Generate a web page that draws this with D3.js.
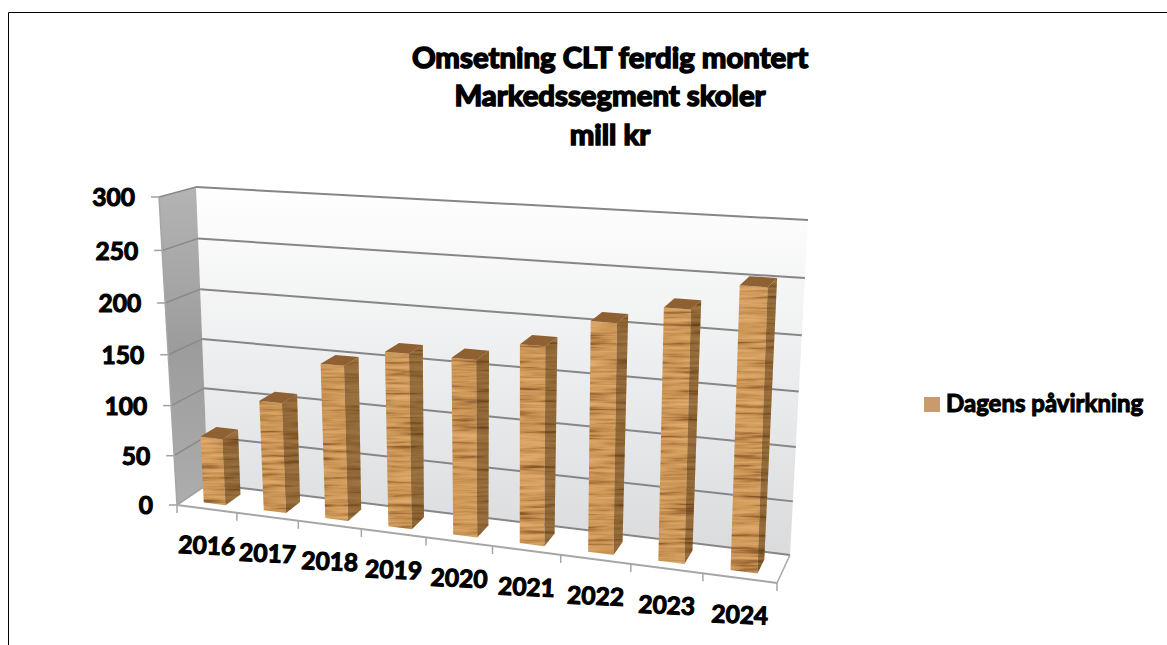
<!DOCTYPE html>
<html>
<head>
<meta charset="utf-8">
<script src="https://cdn.jsdelivr.net/npm/d3@7"></script>
<style>
  html, body { margin: 0; background: #fff; overflow: hidden; }
  text { font-family: Lato, Carlito, sans-serif; font-weight: 700; fill: #000; stroke: #000; stroke-width: 1.1px; }
  text.title { stroke-width: 1.6px; }
</style>
</head>
<body>
<svg id="chart" width="1167" height="645"></svg>
<script>
const years = [2016, 2017, 2018, 2019, 2020, 2021, 2022, 2023, 2024]
const values = [67, 109, 151, 168, 168, 186, 212, 229, 253]
const yTicks = [0, 50, 100, 150, 200, 250, 300]
const titleLines = ["Omsetning CLT ferdig montert", "Markedssegment skoler", "mill kr"]
const seriesName = "Dagens påvirkning"

const svg = d3.select("#chart")
const defs = svg.append("defs")

// corners of the 3d plot box on screen: f = front, b = back, l/r, 0 = floor, 1 = top
const box = {
  fl0: [177, 505], fr0: [777, 583], bl0: [208, 484], br0: [790, 555],
  fl1: [159, 197], fr1: [789, 237], bl1: [196, 187], br1: [808, 220],
}

const warp = (t, w) => t * w / (1 - t + t * w)
const mix = (a, b, t) => [a[0] + (b[0] - a[0]) * t, a[1] + (b[1] - a[1]) * t]

const xBand = d3.scaleBand().domain(years).range([0, 1])
const yScale = d3.scaleLinear().domain([0, 300]).range([0, 1])

// u along the years, v up the value axis, w from front to back
function project(u, v, w) {
  const uu = warp(u, 0.887), vv = warp(v, 0.953), ww = warp(w, 1.1)
  const floor = mix(mix(box.fl0, box.fr0, uu), mix(box.bl0, box.br0, uu), ww)
  const top = mix(mix(box.fl1, box.fr1, uu), mix(box.bl1, box.br1, uu), ww)
  return mix(floor, top, vv)
}

const poly = d3.line().curve(d3.curveLinearClosed)
const seg = d3.line()

// walls
const wallGrad = defs.append("linearGradient").attr("id", "wall").attr("x1", 0).attr("x2", 0).attr("y1", 0).attr("y2", 1)
wallGrad.append("stop").attr("offset", 0).attr("stop-color", "#ffffff")
wallGrad.append("stop").attr("offset", 1).attr("stop-color", "#d9dbdd")
const sideGrad = defs.append("linearGradient").attr("id", "sideWall").attr("x1", 0).attr("x2", 0).attr("y1", 0).attr("y2", 1)
sideGrad.append("stop").attr("offset", 0).attr("stop-color", "#b4b4b4")
sideGrad.append("stop").attr("offset", 0.5).attr("stop-color", "#9c9c9c")
sideGrad.append("stop").attr("offset", 1).attr("stop-color", "#adadad")

svg.append("path").attr("d", "M8.5,645V12.5H1167").attr("fill", "none").attr("stroke", "#000").attr("stroke-width", 1)

svg.append("path").attr("d", poly([box.bl0, box.br0, box.br1, box.bl1])).attr("fill", "url(#wall)")
svg.append("path").attr("d", poly([box.fl0, box.bl0, box.bl1, box.fl1])).attr("fill", "url(#sideWall)")
svg.append("path").attr("d", poly([box.fl0, box.fr0, box.br0, box.bl0])).attr("fill", "#fff")

// gridlines run along the side wall and the back wall
yTicks.forEach(t => {
  const v = yScale(t)
  svg.append("path").attr("d", seg([project(0, v, 0), project(0, v, 1)]))
    .attr("fill", "none").attr("stroke", "#8a8a8a").attr("stroke-width", 1.5)
  svg.append("path").attr("d", seg([project(0, v, 1), project(1, v, 1)]))
    .attr("fill", "none").attr("stroke", "#868686").attr("stroke-width", 2)
  const p = project(0, v, 0)
  svg.append("path").attr("d", seg([[p[0] - 8, p[1]], p])).attr("stroke", "#a0a0a0").attr("stroke-width", 1.5)
  svg.append("text").attr("x", p[0] - 24).attr("y", p[1] + 3).attr("text-anchor", "end")
    .attr("dominant-baseline", "middle").attr("font-size", 24.5).text(t)
})

// axis lines
const axisColor = "#a6a6a6"
svg.append("path").attr("d", seg([box.fl0, box.fr0])).attr("stroke", axisColor).attr("stroke-width", 2)
svg.append("path").attr("d", seg([box.fl0, box.fl1])).attr("stroke", axisColor).attr("stroke-width", 1.5)
svg.append("path").attr("d", seg([box.fr0, box.br0])).attr("stroke", axisColor).attr("stroke-width", 1.5)
svg.append("path").attr("d", seg([box.fl0, box.bl0])).attr("stroke", axisColor).attr("stroke-width", 1.5)
d3.range(years.length + 1).forEach(i => {
  const p = project(i / years.length, 0, 0)
  svg.append("path").attr("d", seg([p, [p[0], p[1] + 8]])).attr("stroke", axisColor).attr("stroke-width", 1.5)
})

// wood texture, one noise seed per bar
function woodFilter(id, seed) {
  const f = defs.append("filter").attr("id", id).attr("filterUnits", "userSpaceOnUse")
    .attr("x", 0).attr("y", 0).attr("width", 1167).attr("height", 645)
    .attr("color-interpolation-filters", "sRGB")
  f.append("feTurbulence").attr("type", "fractalNoise").attr("baseFrequency", "0.018 0.26")
    .attr("numOctaves", 3).attr("seed", seed).attr("result", "noise")
  f.append("feColorMatrix").attr("in", "noise").attr("type", "matrix")
    .attr("values", "1 0 0 0 0  1 0 0 0 0  1 0 0 0 0  0 0 0 0 1").attr("result", "grey")
  const ct = f.append("feComponentTransfer").attr("in", "grey").attr("result", "wood")
  ct.append("feFuncR").attr("type", "table").attr("tableValues", "0.50 0.50 0.62 0.74 0.80 0.84 0.87 0.88 0.88")
  ct.append("feFuncG").attr("type", "table").attr("tableValues", "0.32 0.32 0.42 0.53 0.59 0.63 0.66 0.68 0.68")
  ct.append("feFuncB").attr("type", "table").attr("tableValues", "0.15 0.15 0.22 0.29 0.34 0.38 0.42 0.44 0.44")
  f.append("feGaussianBlur").attr("in", "wood").attr("stdDeviation", "0.7").attr("result", "soft")
  f.append("feComposite").attr("in", "soft").attr("in2", "SourceGraphic").attr("operator", "in")
}

const barU0 = 0.33, barU1 = 0.695, barW0 = 0.22, barW1 = 0.72
const bars = svg.append("g")
years.forEach((yr, i) => {
  const u0 = xBand(yr) + xBand.bandwidth() * barU0
  const u1 = xBand(yr) + xBand.bandwidth() * barU1
  const v = yScale(values[i])
  woodFilter("wood" + i, i * 7 + 3)

  const front = [project(u0, 0, barW0), project(u1, 0, barW0), project(u1, v, barW0), project(u0, v, barW0)]
  const side = [project(u1, 0, barW0), project(u1, 0, barW1), project(u1, v, barW1), project(u1, v, barW0)]
  const top = [project(u0, v, barW0), project(u1, v, barW0), project(u1, v, barW1), project(u0, v, barW1)]

  bars.append("path").attr("d", poly(front)).attr("filter", `url(#wood${i})`)
  bars.append("path").attr("d", poly(side)).attr("filter", `url(#wood${i})`)
  bars.append("path").attr("d", poly(side)).attr("fill", "#3a2208").attr("opacity", 0.4)
  bars.append("path").attr("d", poly(top)).attr("fill", "#8f6032")
})

// category labels
years.forEach(yr => {
  const p = project(xBand(yr) + xBand.bandwidth() / 2, 0, 0)
  svg.append("text").attr("transform", `translate(${p[0]},${p[1] + 39}) rotate(2.5)`)
    .attr("text-anchor", "middle").attr("dominant-baseline", "middle").attr("font-size", 24.5).text(yr)
})

// title
const titleY = d3.scalePoint().domain(titleLines).range([60, 137])
titleLines.forEach(line => {
  svg.append("text").attr("class", "title").attr("x", 610).attr("y", titleY(line)).attr("text-anchor", "middle")
    .attr("dominant-baseline", "middle").attr("font-size", 29.4).text(line)
})

// legend
svg.append("rect").attr("x", 924).attr("y", 397).attr("width", 16).attr("height", 15).attr("fill", "#c99a6c")
svg.append("text").attr("x", 946).attr("y", 406).attr("dominant-baseline", "middle").attr("font-size", 24).text(seriesName)
</script>
</body>
</html>
